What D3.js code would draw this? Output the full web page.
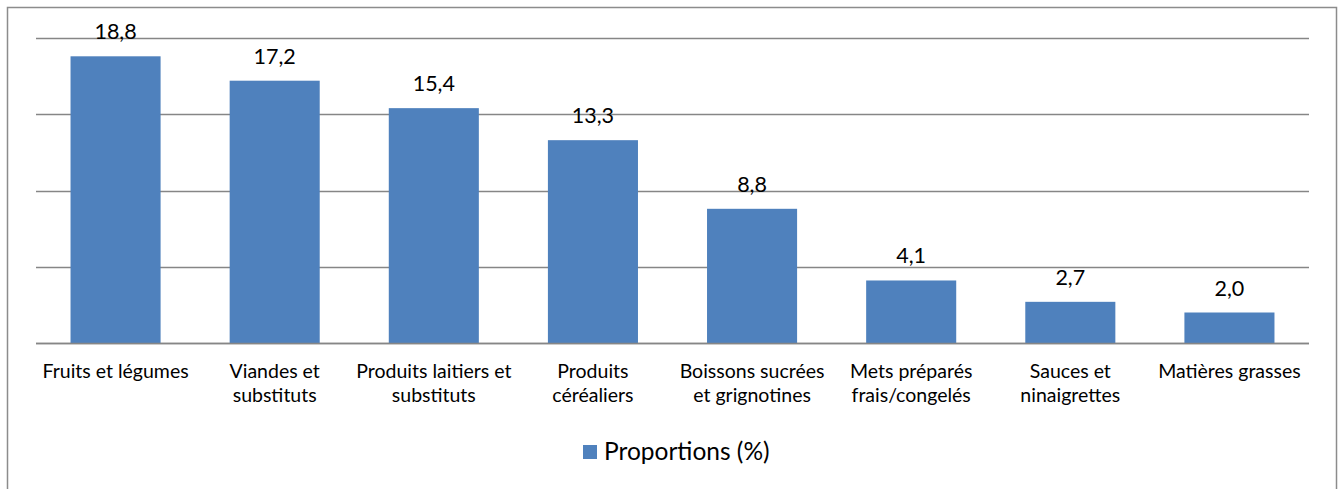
<!DOCTYPE html>
<html>
<head>
<meta charset="utf-8">
<script src="https://cdn.jsdelivr.net/npm/d3@7"></script>
<style>
  body { margin: 0; background: #fff; }
  text { font-family: Lato, "Open Sans", sans-serif; fill: #000; }
</style>
</head>
<body>
<div id="chart"></div>
<script>
// data
var categories = [
  "Fruits et légumes",
  "Viandes et\nsubstituts",
  "Produits laitiers et\nsubstituts",
  "Produits\ncéréaliers",
  "Boissons sucrées\net grignotines",
  "Mets préparés\nfrais/congelés",
  "Sauces et\nninaigrettes",
  "Matières grasses"
];
var proportions = [18.8, 17.2, 15.4, 13.3, 8.8, 4.1, 2.7, 2.0];
var yTicks = [0, 5, 10, 15, 20];
var seriesName = "Proportions (%)";

var W = 1338, H = 489;
var margin = { top: 38, right: 29, bottom: 146, left: 36 },
  width = W - margin.left - margin.right,
  height = H - margin.top - margin.bottom;

var svgRoot = d3.select("#chart")
  .append("svg")
  .attr("width", W)
  .attr("height", H);

// outer border
svgRoot.append("rect")
  .attr("x", 7.5).attr("y", 7.5)
  .attr("width", 1329).attr("height", 500)
  .attr("fill", "none")
  .attr("stroke", "#8c8c8c")
  .attr("stroke-width", 1.5);

var svg = svgRoot.append("g")
  .attr("transform", "translate(" + margin.left + "," + margin.top + ")");

var x = d3.scaleBand().domain(categories).range([0, width]).paddingInner(0.434).paddingOuter(0.217);
var y = d3.scaleLinear().domain([0, 20]).range([height, 0]);

// gridlines
svg.append("g")
  .selectAll("line")
  .data(yTicks)
  .enter()
  .append("line")
  .attr("x1", 0)
  .attr("x2", width)
  .attr("y1", function (d) { return Math.round(y(d)) + 0.5; })
  .attr("y2", function (d) { return Math.round(y(d)) + 0.5; })
  .attr("stroke", "#868686")
  .attr("stroke-width", 1.5);

// bars
svg.append("g")
  .selectAll("rect")
  .data(proportions)
  .enter()
  .append("rect")
  .attr("x", function (d, i) { return x(categories[i]); })
  .attr("y", function (d) { return y(d); })
  .attr("width", x.bandwidth())
  .attr("height", function (d) { return height - y(d); })
  .attr("fill", "#4f81bd");

// redraw baseline over bars
svg.append("line")
  .attr("x1", 0).attr("x2", width)
  .attr("y1", Math.round(y(0)) + 0.5).attr("y2", Math.round(y(0)) + 0.5)
  .attr("stroke", "#868686")
  .attr("stroke-width", 1.5);

// value labels
svg.append("g")
  .selectAll("text")
  .data(proportions)
  .enter()
  .append("text")
  .attr("x", function (d, i) { return x(categories[i]) + x.bandwidth() / 2; })
  .attr("y", function (d) { return y(d) - 17; })
  .attr("text-anchor", "middle")
  .style("font-size", "21.5px")
  .text(function (d) { return d.toFixed(1).replace(".", ","); });

// category labels
var xaxis = svg.append("g")
  .attr("transform", "translate(0," + height + ")");
xaxis.selectAll("text")
  .data(categories)
  .enter()
  .append("text")
  .attr("x", function (d) { return x(d) + x.bandwidth() / 2; })
  .attr("y", 35)
  .attr("text-anchor", "middle")
  .style("font-size", "19.5px")
  .each(function (d) {
    var t = d3.select(this);
    d.split("\n").forEach(function (line, k) {
      t.append("tspan")
        .attr("x", x(d) + x.bandwidth() / 2)
        .attr("dy", k === 0 ? 0 : 24)
        .text(line);
    });
  });

// legend
var legend = svgRoot.append("g");
legend.append("rect")
  .attr("x", 583).attr("y", 445)
  .attr("width", 14).attr("height", 14)
  .attr("fill", "#4f81bd");
legend.append("text")
  .attr("x", 604).attr("y", 460)
  .style("font-size", "24.5px")
  .text(seriesName);
</script>
</body>
</html>
